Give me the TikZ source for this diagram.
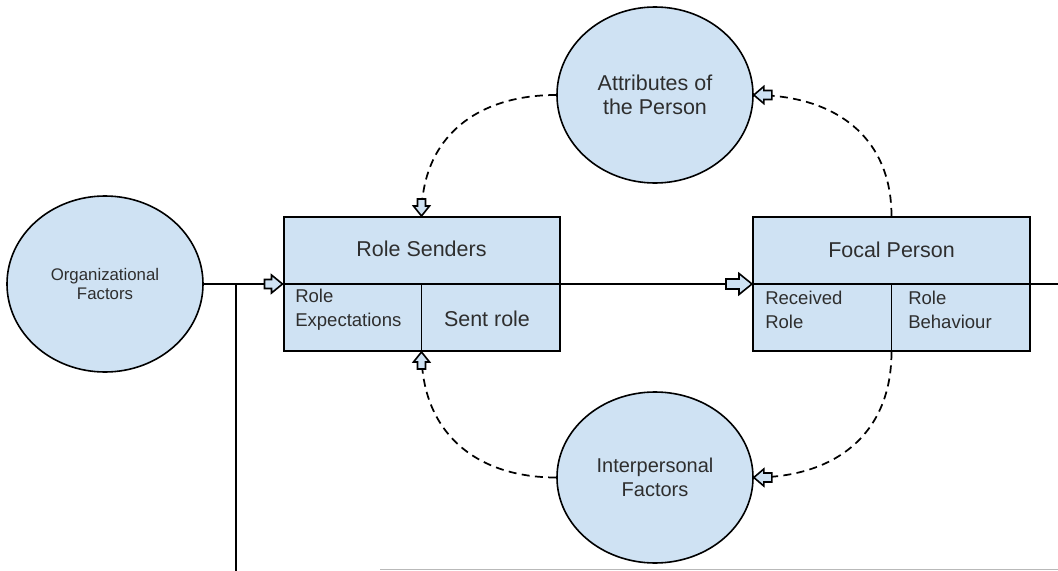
\documentclass[tikz,border=0pt]{standalone}
\usepackage{fontspec}
\setmainfont{Liberation Sans}
\usetikzlibrary{shapes.geometric,decorations.markings}
\definecolor{cellblue}{HTML}{CFE2F3}
\definecolor{inkgray}{HTML}{2E2E2E}

\tikzset{
  every node/.style={text=inkgray},
  oval/.style={ellipse, draw=black, line width=1.2pt, fill=cellblue,
    minimum width=147pt, minimum height=132pt, inner sep=0pt, align=center},
  panel/.style={rectangle, draw=black, line width=1.5pt, fill=cellblue,
    minimum width=207pt, minimum height=100.5pt, inner sep=0pt},
  wire/.style={line width=1.3pt, draw=black},
  dashwire/.style={wire, dash pattern=on 6pt off 4pt, looseness=1.12},
  % hollow block arrow: head length, head half-width, shaft length, shaft half-width
  hollowtip/.style n args={4}{postaction={decorate, decoration={markings,
    mark=at position 1 with {\draw[solid, line width=1.2pt, fill=cellblue]
      (0,0) -- (-#1,#2) -- (-#1,#4) -- (-#1-#3,#4) -- (-#1-#3,-#4)
      -- (-#1,-#4) -- (-#1,-#2) -- cycle;}}}},
  bigtitle/.style={font=\fontsize{16.1}{19}\selectfont},
  celltext/.style={font=\fontsize{13.9}{18}\selectfont, align=left,
    anchor=north west, inner sep=0pt}
}

\begin{document}
\begin{tikzpicture}[x=0.75pt, y=-0.75pt]
  \path[fill=white, use as bounding box] (0,0) rectangle (1058,571);

  % ellipses
  \node[oval, font=\fontsize{12.6}{14.25}\selectfont] (org) at (105,284)
    {Organizational\\Factors};
  \node[oval, font=\fontsize{16.1}{18}\selectfont] (attr) at (655,95)
    {Attributes of\\the Person};
  \node[oval, minimum height=128.25pt, font=\fontsize{15}{17.5}\selectfont]
    (inter) at (655,477.5) {Interpersonal\\Factors};

  % role boxes
  \node[panel] (rs) at (421.5,284) {};
  \node[panel, minimum width=207.75pt] (fp) at (891.5,284) {};

  % box texts
  \node[bigtitle] (rstitle) at (421.5,248.5) {Role Senders};
  \node[celltext] (rsexp) at (295,289) {Role\\Expectations};
  \node[bigtitle] (rssent) at (487,318.5) {Sent role};
  \node[bigtitle] (fptitle) at (891.5,249.5) {Focal Person};
  \node[celltext] (fprecv) at (765,290.5) {Received\\Role};
  \node[celltext] (fpbeh) at (908,290.5) {Role\\Behaviour};

  % box dividers
  \draw[wire] (rs.west) -- (rs.east);
  \draw[wire] (rs.center) -- (rs.south);
  \draw[wire] (fp.west) -- (fp.east);
  \draw[wire] (fp.center) -- (fp.south);

  % main flow
  \coordinate (fork) at (236,284);
  \coordinate (drop) at (236,571);
  \coordinate (tail) at (1058,284);
  \draw[wire, hollowtip={11}{9}{7}{4.5}] (org.east) -- (rs.west);
  \draw[wire] (fork) -- (drop);
  \draw[wire, hollowtip={13}{10.5}{13}{5}] (rs.east) -- (fp.west);
  \draw[wire] (fp.east) -- (tail);

  % feedback loops
  \draw[dashwire, hollowtip={10}{8}{7}{4}] (attr.west) to[out=180, in=90] (rs.north);
  \draw[dashwire, hollowtip={10}{8.5}{8}{4.5}] (fp.north) to[out=90, in=0] (attr.east);
  \draw[dashwire, hollowtip={10}{8}{7}{4}] (inter.west) to[out=180, in=-90] (rs.south);
  \draw[dashwire, hollowtip={10}{8.5}{8}{4.5}] (fp.south) to[out=-90, in=0] (inter.east);

  % bottom edge rule
  \draw[gray!55, line width=1.1pt] (380,569.5) -- (1058,569.5);
\end{tikzpicture}
\end{document}
